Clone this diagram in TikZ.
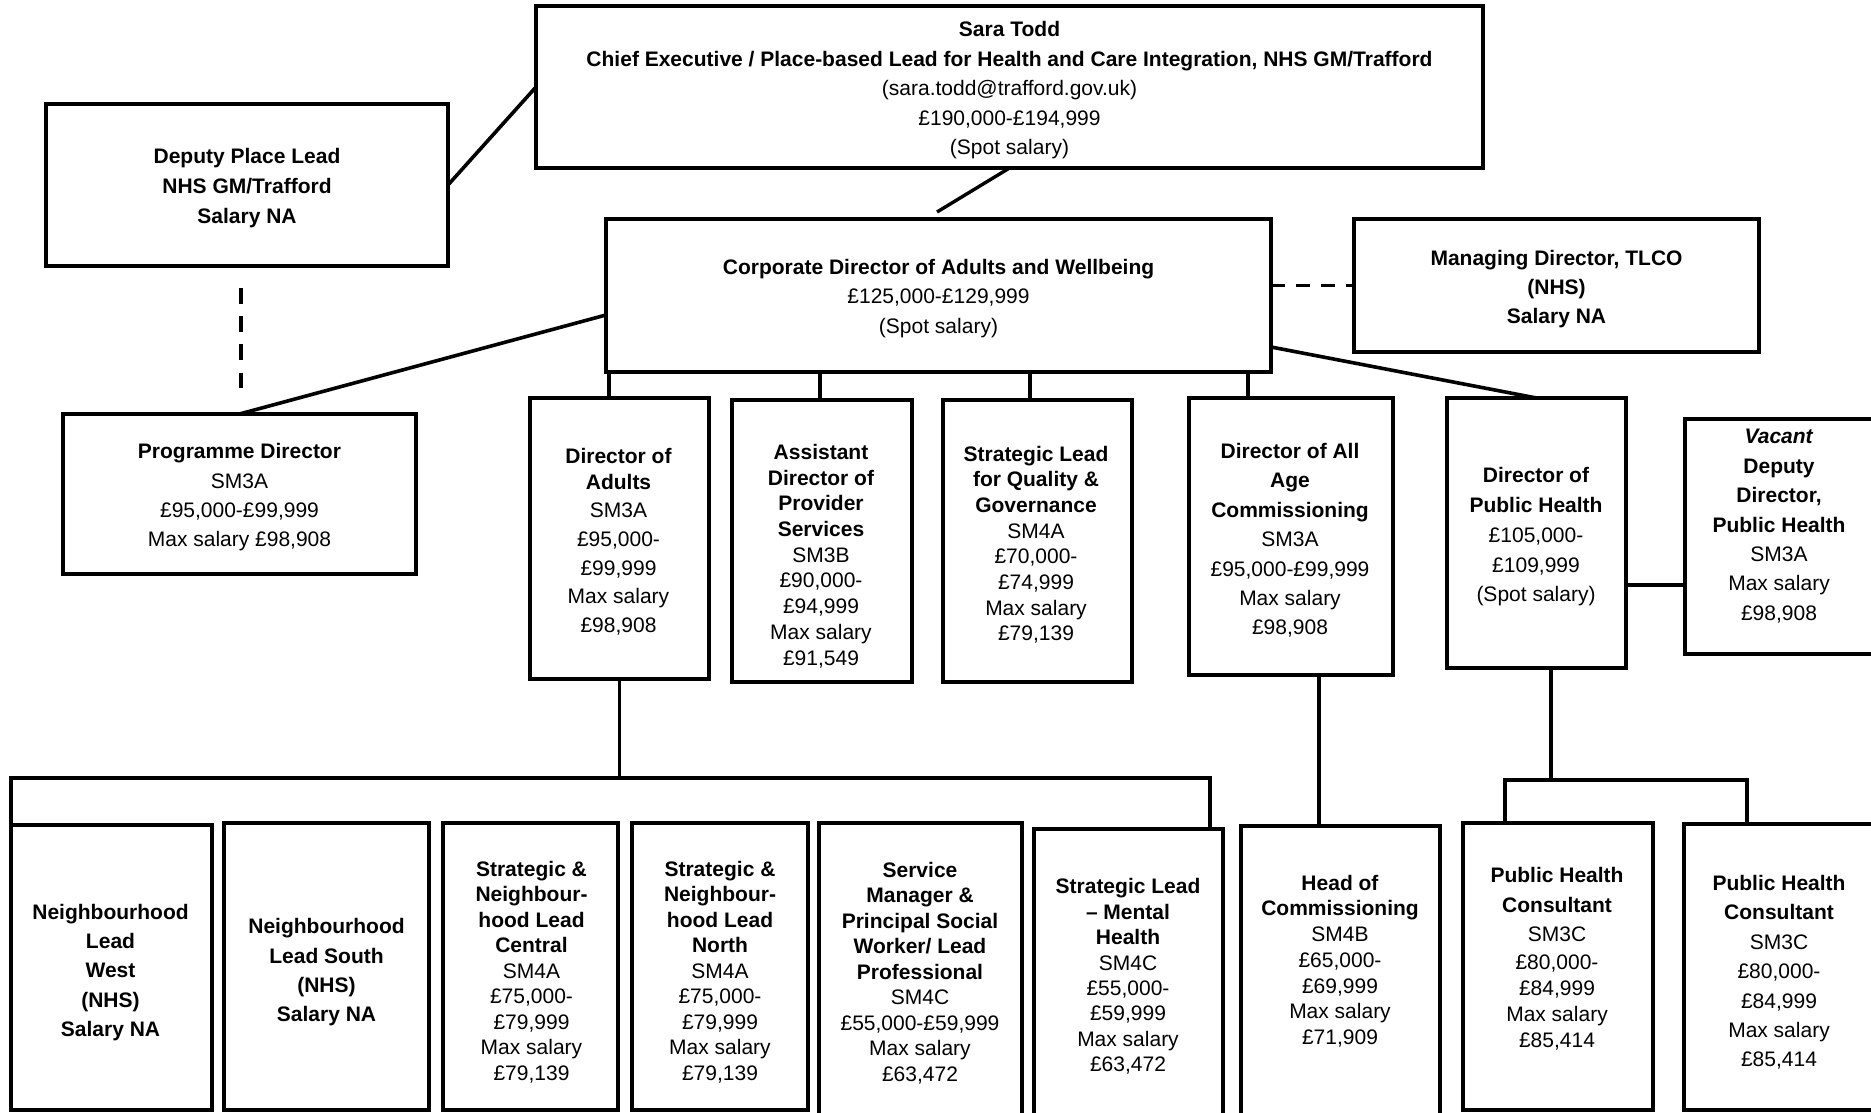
\documentclass[tikz,border=0pt]{standalone}
\usepackage{fontspec}
\setmainfont{Liberation Sans}
\usetikzlibrary{calc}
\newcommand\mkbox[5]{\node[box, minimum width={(#4-#2)*1pt}, minimum height={(#5-#3)*1pt}] (#1) at ({(#2+#4)/2},{(#3+#5)/2}) {};}
\begin{document}
\begin{tikzpicture}[x=1pt,y=-1pt,
  box/.style={draw, line width=3.5pt, rectangle, inner sep=0pt, outer sep=0pt},
  conn/.style={line width=3.2pt},
  dconn/.style={line width=3.5pt, dash pattern=on 15.5pt off 12.7pt},
  hconn/.style={line width=3.5pt, dash pattern=on 14pt off 11pt},
  txt/.style={align=center, inner sep=0pt, yshift=-2.4pt, font=\fontsize{21}{#1}\selectfont},
  txt/.default=25.7
]
\useasboundingbox (0,0) rectangle (1871,1113);
\clip (0,0) rectangle (1871,1113);
\fill[white] (0,0) rectangle (1871,1113);

% boxes
\mkbox{sara}{536}{6}{1483}{168}
\mkbox{dpl}{46}{104}{448}{266}
\mkbox{cd}{606}{219}{1271}{372}
\mkbox{md}{1354}{219}{1759}{352}
\mkbox{pd}{63}{414}{416}{574}
\mkbox{doa}{530}{398}{709}{679}
\mkbox{adps}{732}{400}{912}{682}
\mkbox{slqg}{943}{400}{1132}{682}
\mkbox{daac}{1189}{398}{1393}{675}
\mkbox{dph}{1447}{398}{1626}{668}
\mkbox{vac}{1685}{419}{1876}{654}
\mkbox{nlw}{11}{825}{212}{1110}
\mkbox{nls}{224}{823}{429}{1110}
\mkbox{snc}{443}{823}{618}{1110}
\mkbox{snn}{632}{823}{808}{1110}
\mkbox{smp}{819}{823}{1022}{1130}
\mkbox{slmh}{1034}{829}{1223}{1130}
\mkbox{hoc}{1241}{826}{1440}{1130}
\mkbox{phc1}{1463}{823}{1653}{1110}
\mkbox{phc2}{1684}{824}{1876}{1110}

% texts
\node[txt=29.6] (sara-t) at (1009.5,87.8) {\textbf{Sara Todd}\\\textbf{Chief Executive / Place-based Lead for Health and Care Integration, NHS GM/Trafford}\\(sara.todd@trafford.gov.uk)\\£190,000-£194,999\\(Spot salary)};
\node[txt=30] (dpl-t) at (247,186) {\textbf{Deputy Place Lead}\\\textbf{NHS GM/Trafford}\\\textbf{Salary NA}};
\node[txt=29.5] (cd-t) at (938.5,296) {\textbf{Corporate Director of Adults and Wellbeing}\\£125,000-£129,999\\(Spot salary)};
\node[txt=29] (md-t) at (1556.5,287) {\textbf{Managing Director, TLCO}\\\textbf{(NHS)}\\\textbf{Salary NA}};
\node[txt=29.4] (pd-t) at (239.5,495) {\textbf{Programme Director}\\SM3A\\£95,000-£99,999\\Max salary £98,908};
\node[txt] (doa-t) at (618.5,539.3) {\textbf{Director of}\\\textbf{Adults}\\[3pt]SM3A\\[3pt]£95,000-\\[3pt]£99,999\\[3pt]Max salary\\[3pt]£98,908};
\node[txt] (adps-t) at (821,553.6) {\textbf{Assistant}\\\textbf{Director of}\\\textbf{Provider}\\\textbf{Services}\\SM3B\\£90,000-\\£94,999\\Max salary\\£91,549};
\node[txt] (slqg-t) at (1036,542.3) {\textbf{Strategic Lead}\\\textbf{for Quality \&}\\\textbf{Governance}\\SM4A\\£70,000-\\£74,999\\Max salary\\£79,139};
\node[txt=29.4] (daac-t) at (1290,538) {\textbf{Director of All}\\\textbf{Age}\\\textbf{Commissioning}\\SM3A\\£95,000-£99,999\\Max salary\\£98,908};
\node[txt=29.8] (dph-t) at (1536,534.5) {\textbf{Director of}\\\textbf{Public Health}\\£105,000-\\£109,999\\(Spot salary)};
\node[txt=29.4] (vac-t) at (1779,523.8) {\textbf{\textit{Vacant}}\\\textbf{Deputy}\\\textbf{Director,}\\\textbf{Public Health}\\SM3A\\Max salary\\£98,908};
\node[txt=29.2] (nlw-t) at (110.5,970) {\textbf{Neighbourhood}\\\textbf{Lead}\\\textbf{West}\\\textbf{(NHS)}\\\textbf{Salary NA}};
\node[txt=29.4] (nls-t) at (326.5,970) {\textbf{Neighbourhood}\\\textbf{Lead South}\\\textbf{(NHS)}\\\textbf{Salary NA}};
\node[txt=25.5] (snc-t) at (531.5,969.5) {\textbf{Strategic \&}\\\textbf{Neighbour-}\\\textbf{hood Lead}\\\textbf{Central}\\SM4A\\£75,000-\\£79,999\\Max salary\\£79,139};
\node[txt=25.5] (snn-t) at (720,969.5) {\textbf{Strategic \&}\\\textbf{Neighbour-}\\\textbf{hood Lead}\\\textbf{North}\\SM4A\\£75,000-\\£79,999\\Max salary\\£79,139};
\node[txt=25.5] (smp-t) at (920,970.7) {\textbf{Service}\\\textbf{Manager \&}\\\textbf{Principal Social}\\\textbf{Worker/ Lead}\\\textbf{Professional}\\SM4C\\£55,000-£59,999\\Max salary\\£63,472};
\node[txt=25.4] (slmh-t) at (1128,974.2) {\textbf{Strategic Lead}\\\textbf{– Mental}\\\textbf{Health}\\SM4C\\£55,000-\\£59,999\\Max salary\\£63,472};
\node[txt] (hoc-t) at (1340,958.7) {\textbf{Head of}\\\textbf{Commissioning}\\SM4B\\£65,000-\\£69,999\\Max salary\\£71,909};
\node[txt] (phc1-t) at (1557,956.3) {\textbf{Public Health}\\[4pt]\textbf{Consultant}\\[3pt]SM3C\\[3pt]£80,000-\\£84,999\\Max salary\\£85,414};
\node[txt=29.4] (phc2-t) at (1779,970) {\textbf{Public Health}\\\textbf{Consultant}\\SM3C\\£80,000-\\£84,999\\Max salary\\£85,414};

% connectors
\draw[conn, line width=3.6pt] (dpl.east) -- (sara.west);
\coordinate (cdtop) at (937,212);
\draw[conn, line width=3.4pt] (sara.south) -- (cdtop);
\draw[conn, line width=3.6pt] ([yshift=-19.5pt]cd.west) -- (pd.north);
\draw[conn] ([xshift=-329.5pt]cd.south) -- ([xshift=-10.5pt]doa.north);
\draw[conn] ([xshift=-118.5pt]cd.south) -- ([xshift=-2pt]adps.north);
\draw[conn] ([xshift=91.5pt]cd.south) -- ([xshift=-7.5pt]slqg.north);
\draw[conn] ([xshift=309.5pt]cd.south) -- ([xshift=-43pt]daac.north);
\draw[conn, line width=3.6pt] ([yshift=-51.5pt]cd.east) -- (dph.north);
\draw[hconn] (md.west -| cd.east) -- (md.west);
\coordinate (dpd1) at (241,288);
\coordinate (dpd2) at (241,388);
\draw[dconn] (dpd1) -- (dpd2);
\draw[conn, line width=3.6pt] ([yshift=-52pt]dph.east) -- ([yshift=-48.5pt]vac.west);

\coordinate (busL) at (11,778);
\coordinate (busR) at (1210,778);
\draw[conn, line width=3.5pt] (nlw.north west) -- (busL) -- (busR) -- (busR |- slmh.north);
\draw[conn] (doa.south) -- (doa.south |- busL);

\draw[conn] ([xshift=28pt]daac.south) -- ([xshift=-21.5pt]hoc.north);

\coordinate (phL) at (1505,780);
\coordinate (phR) at (1747,780);
\coordinate (phM) at (1551,780);
\draw[conn] (phM |- dph.south) -- (phM);
\draw[conn, line width=4.2pt] (phL |- phc1.north) -- (phL) -- (phR) -- (phR |- phc2.north);
\end{tikzpicture}
\end{document}
